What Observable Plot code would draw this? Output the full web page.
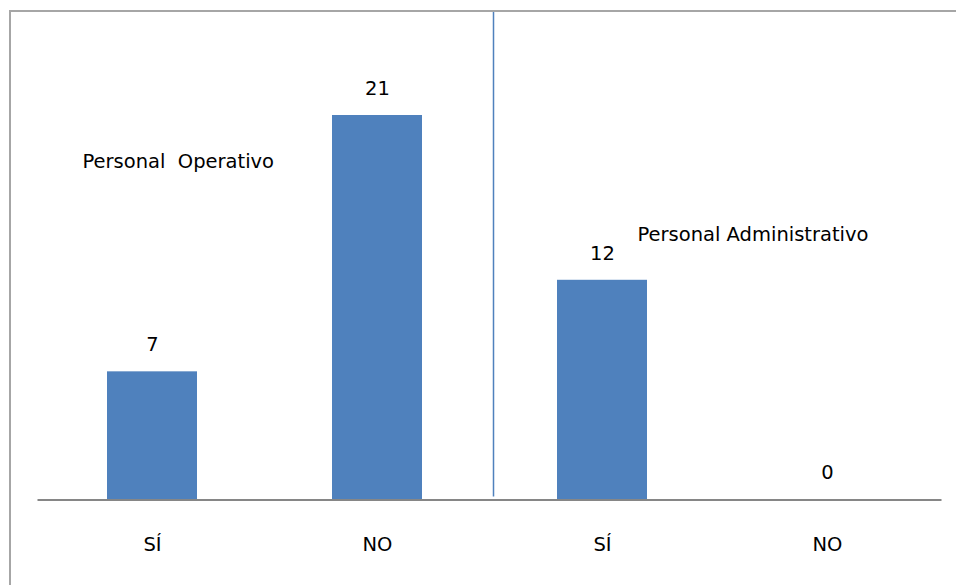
<!DOCTYPE html>
<html>
<head>
<meta charset="utf-8">
<script src="https://cdn.jsdelivr.net/npm/d3@7"></script>
<script src="https://cdn.jsdelivr.net/npm/@observablehq/plot@0.6"></script>
<style>
  html, body { margin: 0; padding: 0; background: #fff; }
  #wrap { position: relative; width: 956px; height: 585px; overflow: hidden; }
  #frame { position: absolute; left: 9px; top: 10px; width: 1000px; height: 700px;
           border-left: 2px solid #a6a6a6; border-top: 2px solid #a6a6a6; pointer-events: none; }
  svg { font-family: "DejaVu Sans", sans-serif; }
</style>
</head>
<body>
<div id="wrap"><div id="frame"></div></div>
<script>
const keys = ["SÍ-1", "NO-1", "SÍ-2", "NO-2"];
const tickLabels = ["SÍ", "NO", "SÍ", "NO"];
const values = [7, 21, 12, 0];
const groups = ["Personal Operativo", "Personal Operativo", "Personal Administrativo", "Personal Administrativo"];
const groupLabels = ["Personal\u00a0 Operativo", "Personal Administrativo"];

const data = keys.map((k, i) => ({key: k, label: tickLabels[i], value: values[i], group: groups[i]}));
const fmt = d => tickLabels[keys.indexOf(d)];

const chart = Plot.plot({
  width: 956,
  height: 585,
  marginLeft: 39.5,
  marginRight: 16.5,
  marginTop: 115,
  marginBottom: 85.5,
  style: {fontFamily: "DejaVu Sans, sans-serif", fontSize: "19.5px", color: "#000", background: "transparent"},
  x: {domain: keys, paddingInner: 0.6, paddingOuter: 0.3, axis: null},
  y: {domain: [0, 21], axis: null},
  marks: [
    Plot.barY(data, {x: "key", y: "value", fill: "#4f81bd"}),
    Plot.ruleY([0], {stroke: "#868686", strokeWidth: 2, insetLeft: -2, insetRight: -2}),
    Plot.ruleX(["NO-1"], {dx: 116, stroke: "#4f81bd", strokeWidth: 1.5, insetTop: -104, insetBottom: 3}),
    Plot.text(data, {x: "key", y: "value", text: d => String(d.value), dy: -27, fontSize: 19.5, fill: "#000"}),
    Plot.text([groupLabels[0]], {x: () => "SÍ-1", y: () => 18.45, text: d => d, dx: -70, textAnchor: "start", fontSize: 19.5, fill: "#000"}),
    Plot.text([groupLabels[1]], {x: () => "SÍ-2", y: () => 14.5, text: d => d, dx: 35, textAnchor: "start", fontSize: 19.5, fill: "#000"}),
    Plot.axisX({tickSize: 0, tickPadding: 37, fontSize: 19.5, tickFormat: fmt, label: null})
  ]
});
document.getElementById("wrap").prepend(chart);
</script>
</body>
</html>
